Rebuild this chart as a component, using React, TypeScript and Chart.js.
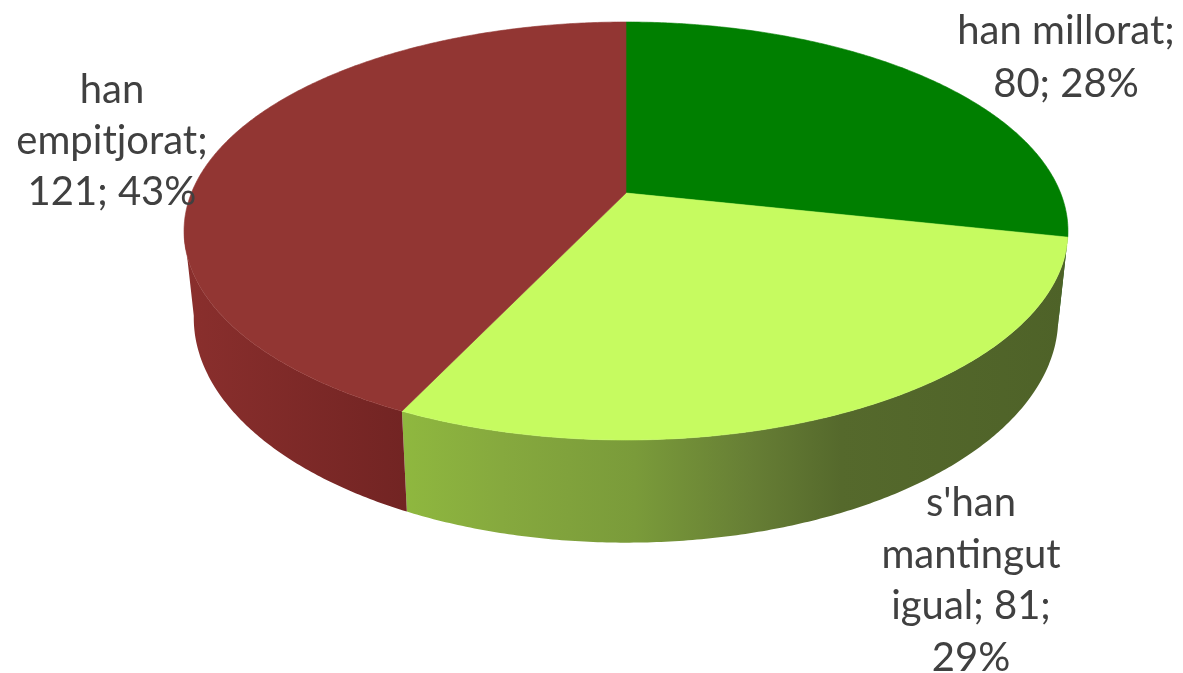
import React, { useEffect, useRef } from "react";
import { Chart, registerables } from "chart.js";

Chart.register(...registerables);

const categories = ["han millorat", "s'han mantingut igual", "han empitjorat"];
const values = [80, 81, 121];
const percents = [28, 29, 43];
const topColors = ["#007f00", "#c6fb60", "#923633"];

const labelBreaks = [
  ["han millorat;", "{v}; {p}%"],
  ["s'han", "mantingut", "igual; {v};", "{p}%"],
  ["han", "empitjorat;", "{v}; {p}%"],
];

// Side wall shading of each slice, left to right.
const sideStops: [number, string][][] = [
  [[0, "#005000"], [1, "#005000"]],
  [[0, "#8fb83f"], [0.15, "#86a93e"], [0.35, "#7a9b3a"], [0.52, "#677f35"], [0.66, "#55692c"], [1, "#4e6228"]],
  [[0, "#8a2f2d"], [1, "#722423"]],
];

// Perspective of the disc: unit circle to screen.
const view = { cx: 626, apexY: 193, kx: 434.6, ky: 167, persp: -0.1818, depth: 84, lowerScale: 0.978 };

const labelPlace = [
  { x: 1066, y: 44, lh: 53 },
  { x: 971, y: 516, lh: 51.5 },
  { x: 112, y: 103, lh: 51 },
];

function project(a: number, lower: boolean) {
  const u = Math.cos(a);
  const v = Math.sin(a);
  const w = 1 + view.persp * v;
  const x = (view.kx * u) / w;
  const y = (view.ky * v + view.apexY + (lower ? view.depth : 0)) / w;
  return { x: view.cx + x * (lower ? view.lowerScale : 1), y };
}

const disc3d = {
  id: "disc3d",
  beforeDatasetsDraw(chart: any) {
    const ctx: CanvasRenderingContext2D = chart.ctx;
    const arcs = chart.getDatasetMeta(0).data as any[];
    const step = Math.PI / 360;
    ctx.save();
    // side walls: only the part facing the viewer
    arcs.forEach((arc, i) => {
      const pts: number[] = [];
      for (let a = arc.startAngle; a < arc.endAngle; a += step) {
        if (Math.sin(a) >= 0.17) pts.push(a);
      }
      if (Math.sin(arc.endAngle) >= 0.17) pts.push(arc.endAngle);
      if (pts.length < 2) return;
      const upper = pts.map((a) => project(a, false));
      const lower = pts.map((a) => project(a, true)).reverse();
      const all = upper.concat(lower);
      const xs = all.map((p) => p.x);
      const g = ctx.createLinearGradient(Math.min(...xs), 0, Math.max(...xs), 0);
      sideStops[i].forEach(([o, c]) => g.addColorStop(o, c));
      ctx.fillStyle = g;
      ctx.beginPath();
      all.forEach((p, k) => (k ? ctx.lineTo(p.x, p.y) : ctx.moveTo(p.x, p.y)));
      ctx.closePath();
      ctx.fill();
    });
    // top faces
    arcs.forEach((arc, i) => {
      ctx.fillStyle = topColors[i];
      ctx.strokeStyle = topColors[i];
      ctx.lineWidth = 0.6;
      ctx.beginPath();
      ctx.moveTo(view.cx, view.apexY);
      for (let a = arc.startAngle; a < arc.endAngle; a += step) {
        const p = project(a, false);
        ctx.lineTo(p.x, p.y);
      }
      const e = project(arc.endAngle, false);
      ctx.lineTo(e.x, e.y);
      ctx.closePath();
      ctx.fill();
      ctx.stroke();
    });
    ctx.restore();
    return false;
  },
  afterDraw(chart: any) {
    const ctx: CanvasRenderingContext2D = chart.ctx;
    ctx.save();
    ctx.font = '40px Lato, "Open Sans", sans-serif';
    ctx.fillStyle = "#404040";
    ctx.textAlign = "center";
    ctx.textBaseline = "alphabetic";
    labelBreaks.forEach((lines, i) => {
      const place = labelPlace[i];
      lines.forEach((line, k) => {
        const text = line.replace("{v}", String(values[i])).replace("{p}", String(percents[i]));
        ctx.fillText(text, place.x, place.y + k * place.lh);
      });
    });
    ctx.restore();
  },
};

export default function App() {
  const ref = useRef<HTMLCanvasElement>(null);
  useEffect(() => {
    const chart = new Chart(ref.current!, {
      type: "pie",
      data: {
        labels: categories,
        datasets: [{ data: values, backgroundColor: topColors, borderWidth: 0 }],
      },
      options: {
        responsive: false,
        animation: false,
        plugins: { legend: { display: false }, tooltip: { enabled: false }, title: { display: false } },
      },
      plugins: [disc3d],
    });
    return () => chart.destroy();
  }, []);
  return (
    <div style={{ position: "fixed", left: 0, top: 0, width: 1183, height: 673, background: "#fff" }}>
      <canvas ref={ref} width={1183} height={673} style={{ display: "block", filter: "blur(0.6px)" }} />
    </div>
  );
}
